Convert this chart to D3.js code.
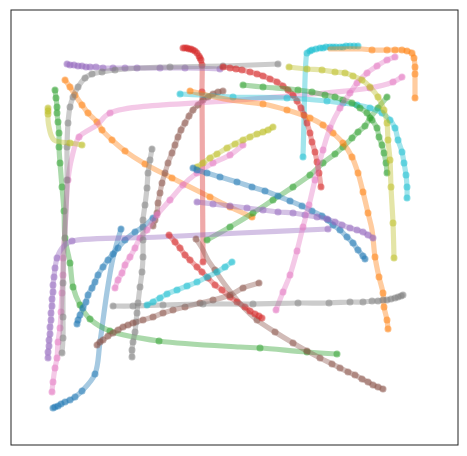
<!DOCTYPE html>
<html><head><meta charset="utf-8">
<script src="https://cdn.jsdelivr.net/npm/d3@7"></script>
<style>html,body{margin:0;padding:0;background:#fff;}</style>
</head><body>
<svg id="chart" width="467" height="456"></svg>
<script>
// Each point: [x, y, marker(1/0)]
const blue1 = [[42,37,1],[44,38,1],[47,39,1],[50,41,1],[54,43,1],[59,45,1],[64,48,1],[71,54,1],[84,71,1],[89,103,0],[96,153,0],[102,187,0],[110,216,1]];
const orange1 = [[54,365,1],[59,358,1],[64,350,1],[71,340,1],[77,332,1],[86,323,1],[91,315,1],[101,305,1],[114,294,1],[134,281,1],[161,267,1],[199,248,1],[219,238,1],[241,228,1]];
const green1 = [[44,355,1],[45,347,1],[46,338,1],[46,332,1],[47,323,1],[48,312,1],[48,298,1],[49,282,1],[51,258,1],[53,234,1],[54,207,1],[59,182,1],[62,158,1],[69,140,1],[79,126,1],[99,114,1],[148,104,1],[229,98,0],[249,97,1],[296,93,1],[326,91,1]];
const red1 = [[172,397,1],[174,397,1],[176,397,1],[178,396,1],[180,396,1],[182,395,1],[184,394,1],[186,392,1],[188,389,1],[189,387,1],[190,385,1],[191,380,1],[191,353,1],[192,183,1]];
const purple1 = [[56,381,1],[59,380,1],[63,380,1],[67,379,1],[71,379,1],[75,378,1],[79,378,1],[85,378,1],[92,377,1],[102,377,1],[114,377,1],[126,377,1],[149,377,1],[174,377,1],[209,376,1]];
const brown1 = [[212,354,1],[207,353,1],[202,351,1],[197,348,1],[192,345,1],[187,340,1],[182,335,1],[178,329,1],[174,322,1],[170,315,1],[167,308,1],[164,300,1],[161,292,1],[157,282,1],[154,272,1],[151,262,1],[149,252,1],[147,242,1],[146,232,1],[144,225,1],[142,219,1]];
const pink1 = [[41,53,1],[42,63,1],[44,77,1],[46,87,1],[47,103,1],[49,117,1],[50,133,1],[51,152,1],[52,170,1],[52,187,1],[54,215,0],[57,265,1],[61,288,0],[68,308,1],[86,320,0],[99,332,1],[229,345,0],[359,357,1],[382,363,1],[391,368,1]];
const gray1 = [[51,92,1],[52,107,1],[52,128,1],[52,162,1],[53,195,0],[54,215,0],[56,265,1],[56,298,1],[57,322,1],[59,338,1],[62,348,1],[67,358,1],[74,367,1],[81,371,1],[91,373,1],[104,375,1],[129,377,0],[159,378,1],[212,379,1],[267,381,1]];
const olive1 = [[37,337,1],[37,334,1],[37,331,1],[37,325,0],[38,318,0],[40,310,0],[43,305,0],[49,303,0],[59,302,1],[71,300,1]];
const cyan1 = [[292,288,1],[293,325,0],[294,365,0],[295,385,0],[296,392,1],[299,394,1],[301,395,1],[305,396,1],[309,397,1],[312,397,1],[315,398,1],[319,398,1],[322,398,1],[325,398,1],[329,398,1],[332,398,1],[335,399,1],[339,399,1],[343,399,1],[347,399,1]];

const blue2 = [[66,121,1],[67,125,1],[69,130,1],[72,137,1],[75,143,1],[77,150,1],[81,157,1],[84,163,1],[87,170,1],[92,178,1],[97,185,1],[102,191,1],[107,197,1],[114,205,1],[124,213,1],[132,218,1],[142,227,1]];
const orange2 = [[319,396,0],[351,396,0],[361,395,1],[376,395,1],[384,395,1],[391,395,1],[396,394,1],[401,392,1],[403,387,1],[404,378,1],[404,371,1],[404,347,1]];
const green2 = [[196,205,1],[219,218,1],[242,232,1],[262,245,1],[282,258,1],[299,270,1],[312,282,1],[324,291,1],[332,298,1],[341,307,1],[347,313,1],[354,319,1],[359,327,1],[367,337,1],[376,348,1]];
const red2 = [[212,378,1],[219,377,1],[225,376,1],[231,375,1],[239,373,1],[246,371,1],[252,369,1],[259,366,1],[266,363,1],[272,359,1],[277,355,1],[282,350,1],[286,344,1],[290,337,1],[293,330,1],[296,322,1],[299,312,1],[301,303,1],[304,293,1],[306,283,1],[308,272,1],[310,258,1]];
const purple2 = [[37,87,1],[37,93,1],[38,99,1],[38,105,1],[39,111,1],[39,118,1],[40,125,1],[40,132,1],[41,139,1],[41,146,1],[42,153,1],[42,160,1],[43,168,1],[44,177,1],[46,187,1],[49,194,0],[54,200,0],[61,204,1],[149,208,0],[229,212,0],[317,216,1]];
const brown2 = [[185,206,1],[191,197,0],[197,185,0],[204,175,1],[212,163,0],[222,150,0],[232,138,0],[246,125,1],[264,113,1],[282,102,1],[296,94,1],[309,87,1],[321,81,1],[329,77,1],[337,73,1],[344,70,1],[351,66,1],[357,63,1],[362,60,1],[367,58,1],[372,56,1]];
const pink2 = [[104,157,1],[107,165,1],[111,172,1],[114,180,1],[119,188,1],[124,197,1],[129,207,1],[136,215,1],[146,230,1],[159,245,1],[172,260,1],[186,272,1],[202,282,1],[219,290,1],[232,300,1]];
const gray2 = [[141,296,1],[139,285,1],[137,272,1],[136,257,1],[134,240,1],[132,225,1],[132,205,1],[132,188,1],[131,173,1],[129,158,1],[127,142,1],[126,132,1],[125,123,1],[124,113,1],[122,103,1],[121,95,1],[121,88,1]];
const olive2 = [[186,278,1],[192,282,1],[199,287,1],[206,291,1],[216,297,1],[224,301,1],[232,305,1],[239,308,1],[246,311,1],[252,313,1],[257,315,1],[262,318,1]];
const cyan2 = [[169,351,1],[189,350,0],[222,348,1],[276,347,1],[316,344,1],[332,342,1],[346,340,1],[359,337,1],[371,332,1],[379,325,1],[384,317,1],[387,305,1],[391,293,1],[393,282,1],[395,270,1],[396,258,1],[396,247,1]];

const blue3 = [[182,277,1],[186,275,1],[196,272,1],[209,268,1],[226,263,1],[241,258,1],[254,254,1],[267,249,1],[279,244,1],[291,239,1],[301,234,1],[311,229,1],[317,225,1],[322,220,1],[329,215,1],[336,208,1],[342,202,1],[347,195,1],[352,189,1],[354,186,1]];
const orange3 = [[179,354,1],[219,345,0],[252,341,1],[276,335,1],[299,327,1],[312,320,1],[322,312,1],[332,302,1],[341,288,1],[347,272,1],[352,253,1],[357,232,1],[361,215,0],[364,188,1],[368,168,1],[372,152,1],[373,138,1],[376,125,1],[377,116,1]];
const green3 = [[232,360,1],[252,358,1],[287,355,1],[301,353,1],[314,350,1],[324,348,1],[332,345,1],[341,342,1],[349,337,1],[356,332,1],[361,325,1],[366,317,1],[368,308,1],[371,300,1],[373,292,1],[375,282,1],[376,272,1]];
const red3 = [[158,210,1],[164,203,1],[169,197,1],[174,190,1],[179,185,1],[186,178,1],[191,173,1],[197,167,1],[204,160,1],[211,155,1],[219,148,1],[226,143,1],[234,138,1],[239,134,1],[244,131,1],[248,129,1],[251,127,1]];
const purple3 = [[186,243,1],[202,241,1],[219,239,1],[236,237,1],[252,235,1],[267,233,1],[282,232,1],[294,230,1],[306,228,1],[316,226,1],[324,223,1],[331,220,1],[339,217,1],[346,215,1],[352,213,1],[357,210,1],[362,207,1]];
const brown3 = [[86,100,1],[89,103,1],[92,105,1],[97,109,1],[102,112,1],[107,115,1],[112,118,1],[117,120,1],[122,122,1],[132,125,1],[142,128,1],[152,132,1],[162,135,1],[174,138,1],[189,142,1],[202,145,1],[219,150,1],[232,157,1],[248,162,1]];
const pink3 = [[265,135,1],[272,153,1],[279,170,1],[286,194,1],[292,218,1],[298,240,1],[304,265,1],[312,295,1],[319,317,1],[329,337,1],[339,352,1],[346,362,1],[356,372,1],[366,379,1],[376,385,1],[384,388,1]];
const gray3 = [[102,139,1],[122,139,1],[152,140,1],[192,141,1],[242,141,1],[287,142,1],[318,142,1],[339,143,1],[352,143,1],[361,144,1],[367,144,1],[372,145,1],[376,145,1],[380,146,1],[384,147,1],[387,148,1],[390,149,1],[392,150,1]];
const olive3 = [[278,378,1],[296,376,1],[311,375,1],[324,373,1],[334,372,1],[342,369,1],[351,365,1],[359,358,1],[367,348,1],[373,335,1],[376,322,1],[377,305,1],[379,285,1],[380,258,1],[382,222,1],[383,187,1]];
const cyan3 = [[136,140,1],[142,143,1],[149,147,1],[156,151,1],[166,155,1],[176,159,1],[186,163,1],[196,168,1],[206,173,1],[214,178,1],[221,183,1]];

const seriesList = [
  blue1, orange1, green1, red1, purple1, brown1, pink1, gray1, olive1, cyan1,
  blue2, orange2, green2, red2, purple2, brown2, pink2, gray2, olive2, cyan2,
  blue3, orange3, green3, red3, purple3, brown3, pink3, gray3, olive3, cyan3
];
const palette = d3.schemeCategory10;

const svg = d3.select("#chart");
const x = d3.scaleLinear().domain([0, 447]).range([11, 458]);
const y = d3.scaleLinear().domain([0, 435]).range([445, 10]);

const line = d3.line().x(d => x(d[0])).y(d => y(d[1])).curve(d3.curveCatmullRom.alpha(0.5));

seriesList.forEach((s, i) => {
  const c = palette[i % 10];
  const g = svg.append("g");
  g.append("path").attr("d", line(s)).attr("fill", "none")
    .attr("stroke", c).attr("stroke-width", 5.2).attr("stroke-opacity", 0.4)
    .attr("stroke-linecap", "round").attr("stroke-linejoin", "round");
  g.selectAll("circle").data(s.filter(d => d[2])).join("circle")
    .attr("cx", d => x(d[0])).attr("cy", d => y(d[1])).attr("r", 3.5)
    .attr("fill", c).attr("fill-opacity", 0.5);
});

svg.append("rect").attr("x", x(0)).attr("y", y(435))
  .attr("width", x(447) - x(0)).attr("height", y(0) - y(435))
  .attr("fill", "none").attr("stroke", "#222").attr("stroke-width", 1);
</script>
</body></html>
